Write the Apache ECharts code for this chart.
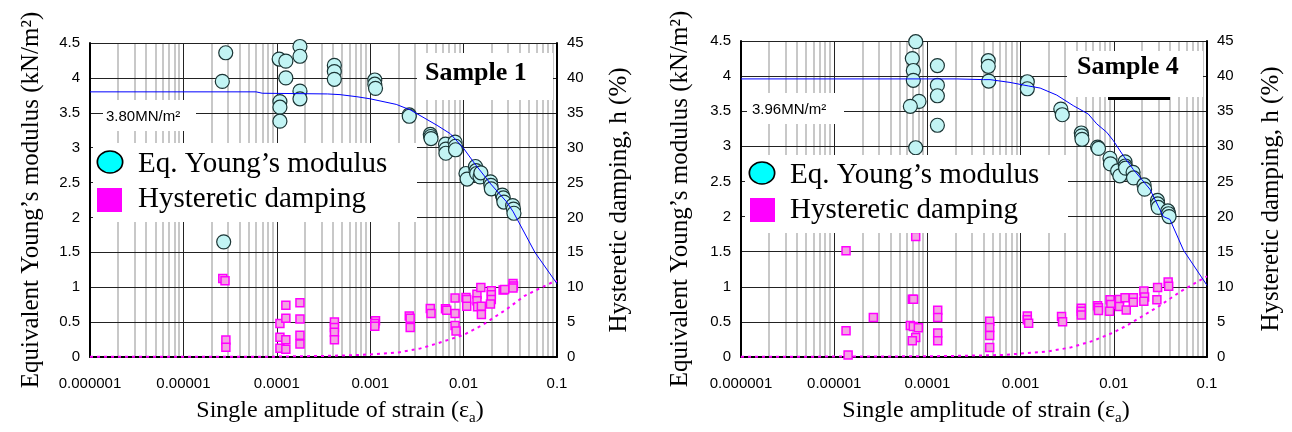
<!DOCTYPE html>
<html>
<head>
<meta charset="utf-8">
<title>Equivalent Young's modulus and hysteretic damping vs strain</title>
<script src="https://cdn.jsdelivr.net/npm/echarts@6/dist/echarts.min.js"></script>
<style>
  html, body { margin: 0; padding: 0; background: #fff; }
  #chart { width: 1292px; height: 432px; }
</style>
</head>
<body>
<div id="chart"></div>
<script>
// ---- tick labels ----
const xTickLabels = ['0.000001', '0.00001', '0.0001', '0.001', '0.01', '0.1'];

// ---- Sample 1: [strain, E (kN/m2)] ----
const s1Modulus = [
  [2.84e-5, 4.36], [2.61e-5, 3.95], [2.7e-5, 1.65],
  [1.25e-4, 4.51], [1.06e-4, 4.27], [1.25e-4, 4.24], [1.77e-4, 4.45], [1.77e-4, 4.31],
  [1.25e-4, 4.00], [1.77e-4, 3.81], [1.77e-4, 3.70], [1.08e-4, 3.66], [1.08e-4, 3.58], [1.08e-4, 3.38],
  [4.13e-4, 4.18], [4.13e-4, 4.09], [4.13e-4, 3.98],
  [1.12e-3, 3.97], [1.12e-3, 3.91], [1.14e-3, 3.85],
  [2.62e-3, 3.47], [2.62e-3, 3.45],
  [4.40e-3, 3.19], [4.44e-3, 3.16], [4.48e-3, 3.13],
  [6.40e-3, 3.05], [6.46e-3, 2.98], [6.46e-3, 2.92],
  [8.10e-3, 3.08], [8.20e-3, 3.02], [8.20e-3, 2.97],
  [1.06e-2, 2.63], [1.09e-2, 2.55],
  [1.34e-2, 2.73], [1.36e-2, 2.67], [1.38e-2, 2.63], [1.50e-2, 2.58], [1.53e-2, 2.64],
  [1.94e-2, 2.51], [1.96e-2, 2.46], [1.98e-2, 2.41],
  [2.60e-2, 2.32], [2.66e-2, 2.28], [2.70e-2, 2.22],
  [3.35e-2, 2.17], [3.42e-2, 2.12], [3.46e-2, 2.06]
];
// ---- Sample 1: [strain, h (%)] ----
const s1Damping = [
  [2.64e-5, 11.26], [2.79e-5, 10.93], [2.85e-5, 2.44], [2.85e-5, 1.39],
  [1.08e-4, 4.79], [1.08e-4, 2.83], [1.08e-4, 1.25],
  [1.25e-4, 7.43], [1.25e-4, 5.56], [1.25e-4, 2.49], [1.25e-4, 1.10],
  [1.77e-4, 7.76], [1.77e-4, 5.46], [1.77e-4, 3.12], [1.77e-4, 1.87],
  [4.14e-4, 5.03], [4.14e-4, 4.21], [4.14e-4, 3.55], [4.14e-4, 2.49],
  [1.14e-3, 5.18], [1.12e-3, 4.79], [1.12e-3, 4.41],
  [2.62e-3, 5.89], [2.68e-3, 5.56], [2.68e-3, 4.21],
  [4.40e-3, 6.95], [4.48e-3, 6.23],
  [6.40e-3, 6.90], [6.60e-3, 6.71],
  [8.10e-3, 8.44], [8.10e-3, 6.23], [8.10e-3, 4.50], [8.30e-3, 3.74],
  [1.06e-2, 8.53], [1.08e-2, 8.24], [1.08e-2, 7.29],
  [1.39e-2, 9.01], [1.39e-2, 8.05], [1.41e-2, 7.19],
  [1.53e-2, 9.96], [1.55e-2, 7.29], [1.55e-2, 6.08],
  [1.98e-2, 9.49], [1.98e-2, 8.91], [1.98e-2, 8.24], [1.94e-2, 7.58],
  [2.65e-2, 9.59], [2.75e-2, 9.68],
  [3.38e-2, 10.54], [3.42e-2, 10.16], [3.38e-2, 9.88]
];
// fitted curves, Sample 1
const s1ModulusFit = [
  [1e-6, 3.80], [6e-5, 3.80], [7e-5, 3.78], [3.5e-4, 3.77], [4.75e-4, 3.76], [7.2e-4, 3.73],
  [1e-3, 3.70], [1.9e-3, 3.62], [2.7e-3, 3.54], [5.2e-3, 3.32], [7.2e-3, 3.20], [1e-2, 2.99],
  [1.3e-2, 2.78], [1.95e-2, 2.48], [2.9e-2, 2.22], [3.4e-2, 2.08], [5.8e-2, 1.50], [0.1, 1.05]
];
const s1DampingFit = [
  [1e-6, 0.02], [1e-4, 0.05], [2e-4, 0.12], [4e-4, 0.18], [7e-4, 0.28], [1.1e-3, 0.40],
  [2e-3, 0.65], [3.4e-3, 1.20], [5.3e-3, 1.97], [1e-2, 3.16], [1.6e-2, 4.60], [2.9e-2, 6.86],
  [4.5e-2, 8.77], [8.8e-2, 10.68], [0.1, 10.9]
];

// ---- Sample 4: [strain, E (kN/m2)] ----
const s4Modulus = [
  [7.49e-5, 4.49], [6.89e-5, 4.25], [7.06e-5, 4.08], [7.06e-5, 3.94], [8.13e-5, 3.64], [6.56e-5, 3.57], [7.49e-5, 2.98],
  [1.28e-4, 4.15], [1.28e-4, 3.87], [1.28e-4, 3.72], [1.28e-4, 3.30],
  [4.50e-4, 4.22], [4.50e-4, 4.14], [4.55e-4, 3.93],
  [1.18e-3, 3.92], [1.18e-3, 3.82],
  [2.70e-3, 3.53], [2.80e-3, 3.45],
  [4.48e-3, 3.19], [4.52e-3, 3.15], [4.56e-3, 3.10],
  [6.70e-3, 2.99], [6.85e-3, 2.97],
  [9.10e-3, 2.83], [9.20e-3, 2.75],
  [1.10e-2, 2.65], [1.16e-2, 2.58],
  [1.32e-2, 2.78], [1.33e-2, 2.72], [1.34e-2, 2.69],
  [1.61e-2, 2.63], [1.63e-2, 2.55],
  [2.11e-2, 2.45], [2.14e-2, 2.39],
  [2.94e-2, 2.23], [2.96e-2, 2.18], [3.00e-2, 2.13],
  [3.80e-2, 2.08], [3.86e-2, 2.04], [3.92e-2, 2.00]
];
// ---- Sample 4: [strain, h (%)] ----
const s4Damping = [
  [1.34e-5, 15.14], [1.34e-5, 3.74], [1.41e-5, 0.29], [2.63e-5, 5.61],
  [7.49e-5, 17.15], [6.89e-5, 8.24], [7.10e-5, 8.24], [6.56e-5, 4.50], [7.06e-5, 4.36], [8.00e-5, 4.17],
  [7.49e-5, 2.78], [6.89e-5, 2.30],
  [1.29e-4, 6.66], [1.29e-4, 5.61], [1.29e-4, 3.41], [1.29e-4, 2.30],
  [4.66e-4, 5.08], [4.66e-4, 4.21], [4.66e-4, 3.06], [4.66e-4, 1.34],
  [1.18e-3, 5.85], [1.18e-3, 5.32], [1.22e-3, 4.79],
  [2.75e-3, 5.75], [2.82e-3, 5.03],
  [4.48e-3, 6.94], [4.48e-3, 6.51], [4.48e-3, 5.99],
  [6.70e-3, 7.29], [6.85e-3, 7.00], [6.85e-3, 6.61],
  [9.10e-3, 8.15], [9.30e-3, 7.48], [9.00e-3, 6.51],
  [1.15e-2, 8.19], [1.15e-2, 7.19],
  [1.32e-2, 8.44], [1.36e-2, 6.71],
  [1.62e-2, 8.44], [1.62e-2, 7.81],
  [2.10e-2, 9.39], [2.14e-2, 8.53], [2.10e-2, 7.95],
  [2.95e-2, 9.88], [2.90e-2, 8.15],
  [3.83e-2, 10.68], [3.88e-2, 10.06]
];
// fitted curves, Sample 4
const s4ModulusFit = [
  [1e-6, 3.96], [2.06e-4, 3.96], [4e-4, 3.95], [4.7e-4, 3.95], [7.7e-4, 3.91], [1.21e-3, 3.86],
  [1.62e-3, 3.83], [2.44e-3, 3.73], [3.67e-3, 3.58], [5.32e-3, 3.46], [6.56e-3, 3.32], [8.4e-3, 3.20],
  [9.9e-3, 3.08], [1.26e-2, 2.87], [1.62e-2, 2.67], [2.44e-2, 2.39], [3.4e-2, 2.00], [4e-2, 1.96],
  [5.6e-2, 1.52], [0.1, 1.02]
];
const s4DampingFit = [
  [1e-6, 0.02], [1e-4, 0.10], [3e-4, 0.20], [6.5e-4, 0.29], [9.9e-4, 0.48], [1.9e-3, 0.76],
  [3.4e-3, 1.34], [6e-3, 2.30], [9.9e-3, 3.49], [1.37e-2, 4.46], [2.07e-2, 5.89], [3.13e-2, 7.33],
  [5.1e-2, 9.25], [0.1, 11.5]
];

// minor (2..9 per decade) gridline positions on the log strain axis
const minorStrains = [];
for (let e = -6; e <= -2; e++) {
  for (let k = 2; k <= 9; k++) minorStrains.push(k * Math.pow(10, e));
}

const SERIF = "'Liberation Serif', 'Times New Roman', serif";
const TICK = "'Liberation Sans Narrow', 'Liberation Sans', Arial, sans-serif";

const grids = [
  { left: 90, top: 43, width: 467, height: 314 },
  { left: 741, top: 41, width: 466, height: 316 }
];

function xAxisFor(i, shift) {
  return {
    type: 'log', logBase: 10, gridIndex: i, min: 1e-6, max: 0.1, z: 2,
    name: '{t|Single amplitude of strain (ε}{s|a}{t|)}',
    nameLocation: 'middle', nameGap: 39,
    nameTextStyle: {
      padding: [0, 0, 0, shift],
      rich: {
        t: { fontFamily: SERIF, fontSize: 24, lineHeight: 30, color: '#000' },
        s: { fontFamily: SERIF, fontSize: 15, lineHeight: 15, verticalAlign: 'bottom', color: '#000' }
      }
    },
    axisLine: { show: true, onZero: false, lineStyle: { color: '#000', width: 2 } },
    axisTick: { show: false },
    axisLabel: {
      margin: 19, fontFamily: TICK, fontSize: 15, color: '#000',
      formatter: v => xTickLabels[Math.round(Math.log10(v)) + 6]
    },
    splitLine: { show: true, lineStyle: { color: '#222', width: 1 } }
  };
}

function yAxesFor(i, leftGap, rightGap) {
  return [
    {
      type: 'value', gridIndex: i, position: 'left', min: 0, max: 4.5, interval: 0.5, z: 2,
      name: 'Equivalent Young’s modulus (kN/m²)', nameLocation: 'middle', nameRotate: 90, nameGap: leftGap,
      nameTextStyle: { fontFamily: SERIF, fontSize: 25, color: '#000' },
      axisLine: { show: true, lineStyle: { color: '#000', width: 2 } },
      axisTick: { show: false },
      axisLabel: { margin: 10, fontFamily: TICK, fontSize: 15, color: '#000' },
      splitLine: { show: true, lineStyle: { color: '#222', width: 1 } }
    },
    {
      type: 'value', gridIndex: i, position: 'right', min: 0, max: 45, interval: 5, z: 2,
      name: 'Hysteretic damping, h (%)', nameLocation: 'middle', nameRotate: 90, nameGap: rightGap,
      nameTextStyle: { fontFamily: SERIF, fontSize: 25, color: '#000' },
      axisLine: { show: true, lineStyle: { color: '#000', width: 2 } },
      axisTick: { show: false },
      axisLabel: { margin: 10, fontFamily: TICK, fontSize: 15, color: '#000' },
      splitLine: { show: false }
    }
  ];
}

function seriesFor(i, modulus, damping, modulusFit, dampingFit) {
  const yl = 2 * i, yr = 2 * i + 1;
  return [
    {
      type: 'scatter', xAxisIndex: i, yAxisIndex: yl, data: [], silent: true, z: 1,
      markLine: {
        silent: true, z: 1, symbol: ['none', 'none'], label: { show: false }, precision: 12,
        lineStyle: { color: '#c8c8c8', width: 2, type: 'solid' },
        data: minorStrains.map(v => ({ xAxis: v }))
      }
    },
    {
      name: 'Hysteretic damping fit', type: 'line', xAxisIndex: i, yAxisIndex: yr,
      data: dampingFit, showSymbol: false, z: 3,
      lineStyle: { color: '#ff00ff', width: 2, type: [3, 4] }
    },
    {
      name: 'Eq. Young’s modulus', type: 'scatter', xAxisIndex: i, yAxisIndex: yl,
      data: modulus, symbol: 'circle', symbolSize: 14, z: 4,
      itemStyle: { color: '#c2f4f4', borderColor: '#1b3535', borderWidth: 1.2, opacity: 1 }
    },
    {
      name: 'Hysteretic damping', type: 'scatter', xAxisIndex: i, yAxisIndex: yr,
      data: damping, symbol: 'rect', symbolSize: 8, z: 4,
      itemStyle: { color: '#f3a2e2', borderColor: '#ff00ff', borderWidth: 1.5, opacity: 1 }
    },
    {
      name: 'Modulus fit', type: 'line', xAxisIndex: i, yAxisIndex: yl,
      data: modulusFit, showSymbol: false, z: 5,
      lineStyle: { color: '#0000ff', width: 1 }
    }
  ];
}

// white annotation boxes, labels and legend keys
function whiteBox(x, y, w, h) {
  return { type: 'rect', z: 10, silent: true, shape: { x: x, y: y, width: w, height: h }, style: { fill: '#fff' } };
}
function label(x, y, text, font) {
  return {
    type: 'text', z: 11, silent: true, x: x, y: y,
    style: { text: text, font: font, fill: '#000', textAlign: 'left', textVerticalAlign: 'middle', align: 'left', verticalAlign: 'middle' }
  };
}
function legendKeys(ex, ey, sx, sy, tx, ty1, ty2) {
  return [
    {
      type: 'circle', z: 11, silent: true, x: ex, y: ey, scaleX: 1.15,
      shape: { cx: 0, cy: 0, r: 11 }, style: { fill: '#00ffff', stroke: '#000', lineWidth: 1.5 }
    },
    { type: 'rect', z: 11, silent: true, shape: { x: sx, y: sy, width: 25, height: 24 }, style: { fill: '#ff00ff' } },
    label(tx, ty1, 'Eq. Young’s modulus', "29px 'Liberation Serif', serif"),
    label(tx, ty2, 'Hysteretic damping', "29px 'Liberation Serif', serif")
  ];
}

const graphics = [
  // Sample 1 panel
  whiteBox(103, 100, 93, 31),
  label(106, 117, '3.80MN/m²', "15px 'Liberation Sans Narrow', 'Liberation Sans', sans-serif"),
  whiteBox(417, 53, 136, 47),
  label(425, 73, 'Sample 1', "bold 26px 'Liberation Serif', serif"),
  whiteBox(93, 143, 324, 79),
  ...legendKeys(110, 162, 97, 188, 138, 164, 199),
  // Sample 4 panel
  whiteBox(747, 93, 97, 31),
  label(752, 110, '3.96MN/m²', "15px 'Liberation Sans Narrow', 'Liberation Sans', sans-serif"),
  whiteBox(1067, 51, 136, 46),
  label(1077, 67, 'Sample 4', "bold 26px 'Liberation Serif', serif"),
  { type: 'rect', z: 11, silent: true, shape: { x: 1108, y: 97, width: 62, height: 3 }, style: { fill: '#000' } },
  whiteBox(745, 155, 323, 78),
  ...legendKeys(762, 173, 750, 198, 790, 175, 210)
];

const chart = echarts.init(document.getElementById('chart'), null, { renderer: 'canvas' });
chart.setOption({
  animation: false,
  backgroundColor: '#fff',
  grid: grids,
  xAxis: [xAxisFor(0, 33), xAxisFor(1, 24)],
  yAxis: [...yAxesFor(0, 46, 50), ...yAxesFor(1, 48, 52)],
  series: [
    ...seriesFor(0, s1Modulus, s1Damping, s1ModulusFit, s1DampingFit),
    ...seriesFor(1, s4Modulus, s4Damping, s4ModulusFit, s4DampingFit)
  ],
  graphic: graphics
});
</script>
</body>
</html>
